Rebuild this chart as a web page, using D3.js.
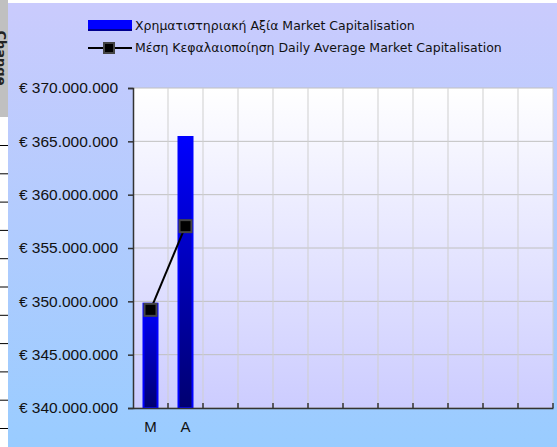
<!DOCTYPE html>
<html>
<head>
<meta charset="utf-8">
<script src="https://cdn.jsdelivr.net/npm/d3@7"></script>
<style>
  body { margin: 0; background: #fff; }
  svg { display: block; font-family: "DejaVu Sans", sans-serif; }
</style>
</head>
<body>
<svg id="chart"></svg>
<script>
var width = 557,
    height = 447;

// data
var months = ["M", "A", "", "", "", "", "", "", "", "", "", ""];
var marketCap = [349870000, 365500000];
var dailyAvg = [349200000, 357050000];
var yTicks = [340000000, 345000000, 350000000, 355000000, 360000000, 365000000, 370000000];
var legendLabels = ["Χρηματιστηριακή Αξία Market Capitalisation",
                    "Μέση Κεφαλαιοποίηση Daily Average Market Capitalisation"];

var margin = {left: 133, right: 4, top: 88, bottom: 39};

var svg = d3.select("#chart")
    .attr("width", width)
    .attr("height", height);

var defs = svg.append("defs");
function vgrad(id, c1, c2) {
  var g = defs.append("linearGradient").attr("id", id)
      .attr("x1", 0).attr("y1", 0).attr("x2", 0).attr("y2", 1);
  g.append("stop").attr("offset", "0%").attr("stop-color", c1);
  g.append("stop").attr("offset", "100%").attr("stop-color", c2);
}
vgrad("panelGrad", "#cacbfd", "#99ccff");
vgrad("plotGrad", "#ffffff", "#ccccff");
vgrad("barGrad", "#0000ff", "#000070");

// left strip (neighbouring table, partly visible)
svg.append("rect").attr("x", 0).attr("y", 0).attr("width", 8).attr("height", 117).attr("fill", "#c0c0c0");
svg.append("text")
    .attr("transform", "translate(-3,58)rotate(90)")
    .attr("text-anchor", "middle")
    .attr("font-weight", "bold")
    .attr("font-size", 13)
    .attr("fill", "#222")
    .text("Change");
d3.range(11).forEach(function(i) {
  svg.append("line")
      .attr("x1", 0).attr("x2", 8)
      .attr("y1", 145.5 + i * 28.3).attr("y2", 145.5 + i * 28.3)
      .attr("stroke", "#000");
});

// chart panel
svg.append("rect")
    .attr("x", 8).attr("y", 3)
    .attr("width", width - 8).attr("height", height - 3)
    .attr("fill", "url(#panelGrad)");

var x = d3.scaleBand()
    .domain(d3.range(months.length))
    .range([margin.left, width - margin.right]);

var y = d3.scaleLinear()
    .domain([340000000, 370000000])
    .range([height - margin.bottom, margin.top]);

var g = svg.append("g");

g.append("rect")
    .attr("x", margin.left).attr("y", margin.top)
    .attr("width", width - margin.right - margin.left)
    .attr("height", height - margin.bottom - margin.top)
    .attr("fill", "url(#plotGrad)");

// gridlines
g.selectAll(".hgrid")
    .data(yTicks)
  .enter().append("line")
    .attr("class", "hgrid")
    .attr("x1", margin.left).attr("x2", width - margin.right)
    .attr("y1", d => y(d)).attr("y2", d => y(d))
    .attr("stroke", "#c0c0c0");

g.selectAll(".vgrid")
    .data(d3.range(1, months.length + 1))
  .enter().append("line")
    .attr("class", "vgrid")
    .attr("x1", d => margin.left + d * x.step()).attr("x2", d => margin.left + d * x.step())
    .attr("y1", margin.top).attr("y2", height - margin.bottom)
    .attr("stroke", "#cfcfcf");

// bars
var bw = 16;
g.selectAll(".bar")
    .data(marketCap)
  .enter().append("rect")
    .attr("class", "bar")
    .attr("x", (d, i) => x(i) + x.bandwidth() / 2 - bw / 2 + 1)
    .attr("y", d => y(d) + 1)
    .attr("width", bw - 2)
    .attr("height", d => y(340000000) - y(d) - 1)
    .attr("fill", "url(#barGrad)")
    .attr("stroke", "#0000ff")
    .attr("stroke-width", 2);

// axes
var yAxis = d3.axisLeft(y)
    .tickValues(yTicks)
    .tickSize(5)
    .tickPadding(10)
    .tickFormat(d => "€ " + d3.format(",")(d).replace(/,/g, "."));

var ya = svg.append("g")
    .attr("transform", "translate(" + margin.left + ",0)")
    .call(yAxis);
ya.select(".domain").attr("stroke", "#333").attr("stroke-width", 1.5);
ya.selectAll(".tick line").attr("stroke", "#333").attr("stroke-width", 1.5);
ya.selectAll("text").attr("font-size", 15.5).attr("fill", "#111").attr("font-family", null);

var xa = svg.append("g")
    .attr("transform", "translate(0," + (height - margin.bottom) + ")")
    .call(d3.axisBottom(x).tickSize(0).tickPadding(13).tickFormat(i => months[i]));
xa.select(".domain").attr("stroke", "#333").attr("stroke-width", 1.5);
xa.selectAll("text").attr("font-size", 15).attr("fill", "#111").attr("font-family", null);

svg.append("g").selectAll(".xtick")
    .data(d3.range(1, months.length + 1))
  .enter().append("line")
    .attr("x1", d => margin.left + d * x.step()).attr("x2", d => margin.left + d * x.step())
    .attr("y1", height - margin.bottom).attr("y2", height - margin.bottom - 5)
    .attr("stroke", "#333").attr("stroke-width", 1.5);

// average line
var line = d3.line()
    .x((d, i) => x(i) + x.bandwidth() / 2)
    .y(d => y(d));

g.append("path")
    .datum(dailyAvg)
    .attr("d", line)
    .attr("fill", "none")
    .attr("stroke", "#000")
    .attr("stroke-width", 2);

g.selectAll(".marker")
    .data(dailyAvg)
  .enter().append("rect")
    .attr("class", "marker")
    .attr("x", (d, i) => x(i) + x.bandwidth() / 2 - 6)
    .attr("y", d => y(d) - 6)
    .attr("width", 12).attr("height", 12)
    .attr("fill", "#000")
    .attr("stroke", "#444")
    .attr("stroke-width", 2);

// legend
var leg = svg.append("g");
leg.append("rect")
    .attr("x", 88).attr("y", 20).attr("width", 44).attr("height", 11)
    .attr("fill", "#0000ff");
leg.append("rect")
    .attr("x", 88).attr("y", 29).attr("width", 44).attr("height", 2)
    .attr("fill", "#000090");
leg.append("line")
    .attr("x1", 88).attr("x2", 132).attr("y1", 48).attr("y2", 48)
    .attr("stroke", "#000").attr("stroke-width", 2);
leg.append("rect")
    .attr("x", 104).attr("y", 43).attr("width", 10).attr("height", 10)
    .attr("fill", "#000").attr("stroke", "#444").attr("stroke-width", 2);
leg.selectAll(".ltext")
    .data(legendLabels)
  .enter().append("text")
    .attr("x", 135)
    .attr("y", (d, i) => 30 + i * 22)
    .attr("font-size", 12.5)
    .attr("fill", "#111")
    .text(d => d);
</script>
</body>
</html>
